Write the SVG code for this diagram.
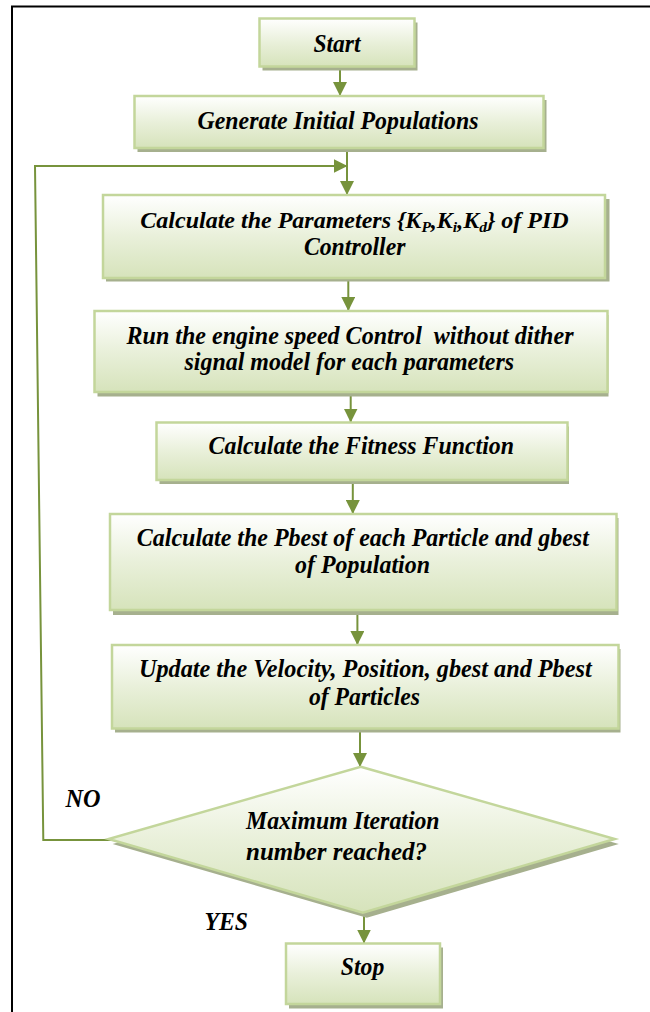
<svg xmlns="http://www.w3.org/2000/svg" width="650" height="1012" viewBox="0 0 650 1012">
<defs>
<linearGradient id="g" x1="0" y1="0" x2="0" y2="1">
<stop offset="0" stop-color="#ffffff"/>
<stop offset="0.5" stop-color="#e9f0da"/>
<stop offset="1" stop-color="#d6e3bb"/>
</linearGradient>
<marker id="ah" viewBox="0 0 14 14" refX="14" refY="7" markerWidth="14" markerHeight="14" markerUnits="userSpaceOnUse" orient="auto">
<path d="M0,0 L14,7 L0,14 z" fill="#77933c"/>
</marker>
<style>
.box{fill:url(#g);stroke:#c3d69b;stroke-width:2.5}
.sh{fill:#a6b08e}
.t{font-family:"Liberation Serif","Times New Roman","DejaVu Serif",serif;font-weight:bold;font-style:italic;font-size:25px;fill:#000;text-anchor:middle;white-space:pre}
.l{text-anchor:start}
.ca{fill:none;stroke:#77933c;stroke-width:2;marker-end:url(#ah)}
.sub{font-size:15.5px}
</style>
</defs>
<rect width="650" height="1012" fill="#ffffff"/>
<path d="M12,1012 V6.5 H650" fill="none" stroke="#000" stroke-width="2"/>

<g id="connectors">
<line class="ca" x1="340" y1="69" x2="340" y2="96"/>
<line class="ca" x1="347" y1="150" x2="347" y2="195"/>
<polyline class="ca" points="118,840 43.3,840 35,166 347.5,166"/>
<line class="ca" x1="348.3" y1="280" x2="348.3" y2="311"/>
<line class="ca" x1="350.7" y1="395" x2="350.7" y2="422.5"/>
<line class="ca" x1="352.8" y1="483" x2="352.8" y2="514"/>
<line class="ca" x1="357.4" y1="613" x2="357.4" y2="645"/>
<line class="ca" x1="360" y1="731" x2="360" y2="767"/>
<line class="ca" x1="364" y1="912" x2="364" y2="943.5"/>
</g>

<g id="start">
<rect class="sh" x="262.5" y="22.5" width="155" height="48"/>
<rect class="box" x="259.5" y="18.5" width="155" height="48"/>
<text class="t" x="337" y="52" textLength="47" lengthAdjust="spacingAndGlyphs">Start</text>
</g>

<g id="generate">
<rect class="sh" x="137.5" y="100" width="409" height="52"/>
<rect class="box" x="134.5" y="96" width="409" height="52"/>
<text class="t" x="338" y="128.5" textLength="281" lengthAdjust="spacingAndGlyphs">Generate Initial Populations</text>
</g>

<g id="params">
<rect class="sh" x="106" y="199" width="503.5" height="82.5"/>
<rect class="box" x="103" y="195" width="502" height="83"/>
<text class="t" x="354.5" y="228" style="font-size:24px">Calculate the Parameters {K<tspan class="sub" dy="4">P</tspan><tspan dy="-4">,K</tspan><tspan class="sub" dy="4">i</tspan><tspan dy="-4">,K</tspan><tspan class="sub" dy="4">d</tspan><tspan dy="-4">} of PID</tspan></text>
<text class="t" x="354.7" y="255" textLength="101.6" lengthAdjust="spacingAndGlyphs">Controller</text>
</g>

<g id="run">
<rect class="sh" x="97.5" y="315" width="511" height="81.5"/>
<rect class="box" x="94.5" y="311" width="513" height="81"/>
<text class="t" x="350" y="343.5" textLength="447" lengthAdjust="spacingAndGlyphs">Run the engine speed Control  without dither</text>
<text class="t" x="349.3" y="370" textLength="329.5" lengthAdjust="spacingAndGlyphs">signal model for each parameters</text>
</g>

<g id="fitness">
<rect class="sh" x="159.5" y="426.5" width="409.5" height="57.5"/>
<rect class="box" x="156.5" y="422.5" width="411" height="57.5"/>
<text class="t" x="361.3" y="454" textLength="305.5" lengthAdjust="spacingAndGlyphs">Calculate the Fitness Function</text>
</g>

<g id="pbest">
<rect class="sh" x="113" y="518" width="505.5" height="97"/>
<rect class="box" x="110" y="514" width="506.5" height="96"/>
<text class="t" x="362.8" y="545.7" textLength="452" lengthAdjust="spacingAndGlyphs">Calculate the Pbest of each Particle and gbest</text>
<text class="t" x="362.5" y="573.3" textLength="135" lengthAdjust="spacingAndGlyphs">of Population</text>
</g>

<g id="update">
<rect class="sh" x="115" y="649" width="505.5" height="83.5"/>
<rect class="box" x="112" y="645" width="506.5" height="83.5"/>
<text class="t" x="365.3" y="676.7" textLength="452.7" lengthAdjust="spacingAndGlyphs">Update the Velocity, Position, gbest and Pbest</text>
<text class="t" x="364.5" y="705" textLength="111" lengthAdjust="spacingAndGlyphs">of Particles</text>
</g>

<g id="decision">
<polygon class="sh" points="364.7,771.7 618.8,844 366.8,917.7 112.6,844"/>
<polygon class="box" points="360.7,766.7 614.8,839 362.8,912.7 108.6,839"/>
<text class="t l" x="246" y="829.3" textLength="193.6" lengthAdjust="spacingAndGlyphs">Maximum Iteration</text>
<text class="t l" x="246" y="860" textLength="181" lengthAdjust="spacingAndGlyphs">number reached?</text>
</g>

<g id="stop">
<rect class="sh" x="289" y="947.5" width="154" height="61"/>
<rect class="box" x="286" y="943.5" width="154" height="60.5"/>
<text class="t" x="362.5" y="975" textLength="43.5" lengthAdjust="spacingAndGlyphs">Stop</text>
</g>

<g id="labels">
<text class="t l" x="65.5" y="806.7" textLength="35" lengthAdjust="spacingAndGlyphs">NO</text>
<text class="t l" x="204.4" y="930" textLength="43.5" lengthAdjust="spacingAndGlyphs">YES</text>
</g>
</svg>
